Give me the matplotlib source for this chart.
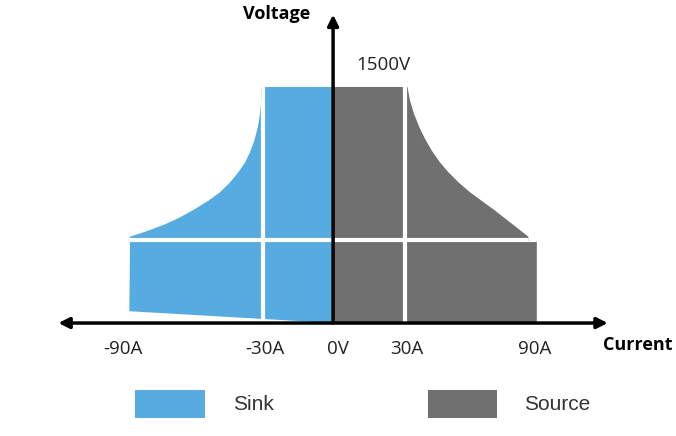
import numpy as np
import matplotlib.pyplot as plt
from matplotlib.patches import Polygon, Rectangle

plt.rcParams['font.family'] = ['Open Sans', 'DejaVu Sans']

# operating envelope (current in A, voltage in V)
v_max = 1500
v_knee = 530          # horizontal grid line
grid_sink = -30.5     # vertical grid lines
grid_source = 31.5
sink_bottom = [(0, 0), (-89, 75)]
sink_curve_i = [-88.7, -82.1, -74.1, -66.8, -60.3, -54.5, -49.4, -45.0,
                -41.4, -38.4, -36.3, -34.4, -32.9, -31.9, -31.5, -31.1]
sink_curve_v = [549, 580, 623, 672, 725, 777, 831, 894,
                958, 1021, 1085, 1159, 1244, 1328, 1392, 1500]
source_curve_i = [32.5, 33.6, 35.4, 37.7, 40.2, 43.1, 46.7, 50.4,
                  54.8, 59.8, 64.9, 70.8, 77.3, 85.3]
source_curve_v = [1500, 1413, 1328, 1244, 1170, 1096, 1021, 958,
                  894, 831, 777, 714, 640, 549]
source_edge = 89
source_top_edge = 521

tick_pos = [-92, -30, 2, 32, 88]
tick_text = ['-90A', '-30A', '0V', '30A', '90A']

blue = '#56ACE0'
gray = '#707070'

fig = plt.figure(figsize=(6.76, 4.36), dpi=100)
ax = fig.add_axes([0, 0, 1, 1])
ax.set_xlim(-145.5, 149.8)
ax.set_ylim(-718, 2053)
ax.axis('off')

# sink region (left)
sink_pts = sink_bottom + [(sink_curve_i[0], v_knee)]
sink_pts += list(zip(sink_curve_i, sink_curve_v)) + [(0, v_max)]
sink = Polygon(sink_pts, closed=True, facecolor=blue, edgecolor='none')
ax.add_patch(sink)

# source region (right)
src_pts = [(0, 0), (source_edge, 0), (source_edge, source_top_edge),
           (source_curve_i[-1], source_top_edge)]
src_pts += list(zip(source_curve_i[::-1], source_curve_v[::-1])) + [(0, v_max)]
source = Polygon(src_pts, closed=True, facecolor=gray, edgecolor='none')
ax.add_patch(source)

# white grid lines, clipped to each region
for patch in (sink, source):
    for x in (grid_sink, grid_source):
        ln, = ax.plot([x, x], [0, v_max], color='white', lw=3, solid_capstyle='butt')
        ln.set_clip_path(patch)
    ln, = ax.plot([-100, 100], [v_knee, v_knee], color='white', lw=3)
    ln.set_clip_path(patch)

# axes with arrows
ax.annotate('', xy=(120, 0), xytext=(-120, 0),
            arrowprops=dict(arrowstyle='<|-|>', lw=2.5, color='black',
                            mutation_scale=16, shrinkA=0, shrinkB=0))
ax.annotate('', xy=(0, 1960), xytext=(0, 0),
            arrowprops=dict(arrowstyle='-|>', lw=2.5, color='black',
                            mutation_scale=16, shrinkA=0, shrinkB=0))

ax.text(-24.5, 1964, 'Voltage', fontsize=13, fontweight='bold',
        ha='center', va='center')
ax.text(133, -140, 'Current', fontsize=13, fontweight='bold',
        ha='center', va='center')
ax.text(21.8, 1640, '1500V', fontsize=13.5, ha='center', va='center', color='#222222')
for x, t in zip(tick_pos, tick_text):
    ax.text(x, -165, t, fontsize=13.5, ha='center', va='center', color='#222222')

# legend
fig.add_artist(Rectangle((135 / 676, 18 / 436), 70 / 676, 28 / 436,
                         transform=fig.transFigure, facecolor=blue, edgecolor='none'))
fig.add_artist(Rectangle((428 / 676, 18 / 436), 69 / 676, 28 / 436,
                         transform=fig.transFigure, facecolor=gray, edgecolor='none'))
fig.text(253 / 676, 32 / 436, 'Sink', fontsize=15, family='Liberation Sans',
         ha='center', va='center', color='#333333')
fig.text(557 / 676, 32 / 436, 'Source', fontsize=15, family='Liberation Sans',
         ha='center', va='center', color='#333333')

fig.savefig('out.png', dpi=100)
